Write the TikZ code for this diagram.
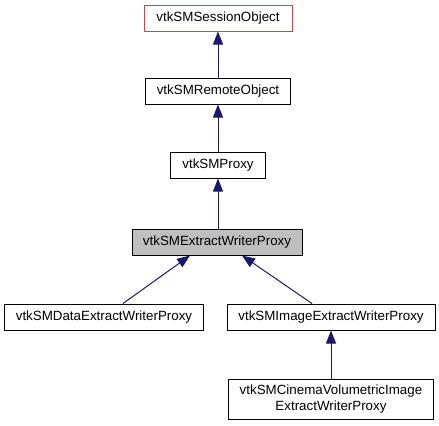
\documentclass[tikz,border=0pt]{standalone}
\usepackage{fontspec}
\setmainfont{Liberation Sans}
\usetikzlibrary{arrows.meta}
\definecolor{edgeblue}{HTML}{191970}
\definecolor{nodegrey}{HTML}{BFBFBF}
\definecolor{basered}{HTML}{FF3030}
\tikzset{
  cls/.style={draw,rectangle,inner sep=0pt,minimum height=26bp,line width=1bp,
    font=\fontsize{13.4}{15.5}\selectfont,align=center},
  inh/.style={draw=edgeblue,line width=1bp,-{Triangle[length=13bp,width=10bp,fill=edgeblue]}}
}
\begin{document}
\begin{tikzpicture}[x=1bp,y=-1bp]
      \useasboundingbox (0,0) rectangle (439,425);
      \node [cls,draw=basered,minimum width=148bp] (session) at (218,18) {vtkSMSessionObject};
      \node [cls,minimum width=145bp] (remote) at (218,91) {vtkSMRemoteObject};
      \node [cls,minimum width=95bp] (proxy) at (218,165) {vtkSMProxy};
      \node [cls,fill=nodegrey,minimum width=170bp] (extract) at (217,242) {vtkSMExtractWriterProxy};
      \node [cls,minimum width=199bp] (data) at (104,317) {vtkSMDataExtractWriterProxy};
      \node [cls,minimum width=208bp] (image) at (331,317) {vtkSMImageExtractWriterProxy};
      \node [cls,minimum width=205bp,minimum height=40bp] (cinema) at (331,399) {vtkSMCinemaVolumetricImage\\ExtractWriterProxy};

      \draw[inh] (remote) -- (session);
      \draw[inh] (proxy) -- (remote);
      \draw[inh] (extract.north -| proxy) -- (proxy);
      \draw[inh] (data.north -| 123,0) -- (extract.south -| 190,0);
      \draw[inh] (image.north -| 312,0) -- (extract.south -| 242,0);
      \draw[inh] (cinema) -- (image);
    \end{tikzpicture}
\end{document}
